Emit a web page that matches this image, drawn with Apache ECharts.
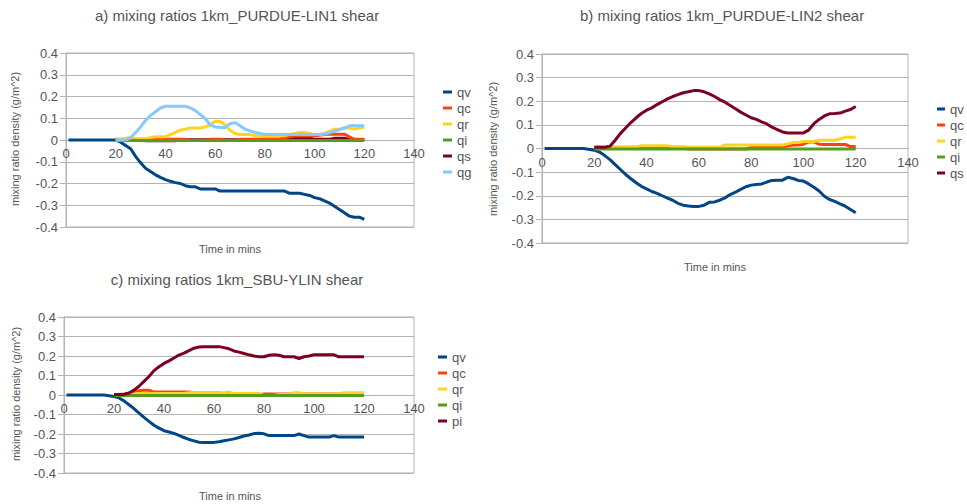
<!DOCTYPE html>
<html>
<head>
<meta charset="utf-8">
<script src="https://cdn.jsdelivr.net/npm/echarts@6/dist/echarts.min.js"></script>
<style>
html,body{margin:0;padding:0;background:#fff;}
#chart{width:967px;height:504px;}
</style>
</head>
<body>
<div id="chart"></div>
<script>
// ---- shared time axis (minutes) ----
const times = [1,4,8,12,16,20,22,24,26,28,30,32,34,36,38,40,42,44,46,48,50,52,54,56,58,60,62,64,66,68,70,72,74,76,78,80,82,84,86,88,90,92,94,96,98,100,102,104,106,108,110,112,114,116,118,120];
const xTicks = [0,20,40,60,80,100,120,140];
const yTicks = [-0.4,-0.3,-0.2,-0.1,0,0.1,0.2,0.3,0.4];

// ---- panel a: 1km_PURDUE-LIN1 ----
const qvA = [0,0,0,0,0,
 0,-0.01,-0.025,-0.04,-0.075,-0.105,-0.13,-0.145,-0.16,-0.172,
 -0.182,-0.19,-0.196,-0.2,-0.21,-0.215,-0.215,-0.225,-0.225,-0.225,
 -0.225,-0.235,-0.235,-0.235,-0.235,-0.235,-0.235,-0.235,-0.235,-0.235,
 -0.235,-0.235,-0.235,-0.235,-0.235,-0.245,-0.245,-0.245,-0.25,-0.255,
 -0.265,-0.27,-0.28,-0.29,-0.305,-0.32,-0.335,-0.35,-0.355,-0.355,
 -0.365];
const qcA = [null,null,null,null,null,
 0.003,0.003,0.003,0.003,0.003,0.003,0.003,0.003,0.003,0.003,
 0.003,0.003,0.003,0.003,0.003,-0.002,-0.002,-0.002,-0.002,0.003,
 0.003,0.003,-0.002,-0.002,-0.002,0.003,0.003,0.003,0.003,0.003,
 0.005,0.005,0.005,0.005,0.01,0.015,0.018,0.018,0.018,0.018,
 0.02,0.022,0.025,0.027,0.027,0.027,0.027,0.015,0.003,0.003,
 0.003];
const qrA = [null,null,null,null,null,
 0,0.003,0.008,0.012,0.005,0.005,0.005,0.012,0.015,0.015,
 0.015,0.025,0.035,0.045,0.05,0.055,0.055,0.055,0.06,0.07,
 0.085,0.085,0.07,0.045,0.03,0.025,0.025,0.025,0.02,0.02,
 0.02,0.02,0.02,0.02,0.02,0.025,0.03,0.035,0.035,0.03,
 0.025,0.025,0.03,0.04,0.05,0.05,0.055,0.055,0.05,0.055,
 0.06];
const qiA = [null,null,null,null,null,
 -0.002,-0.002,-0.002,-0.002,-0.002,-0.002,-0.002,-0.002,-0.002,-0.002,
 -0.002,-0.002,-0.002,-0.002,-0.002,-0.002,-0.002,-0.002,-0.002,-0.002,
 -0.002,-0.002,-0.002,-0.002,-0.002,-0.002,-0.002,-0.002,-0.002,-0.002,
 -0.002,-0.002,-0.002,-0.002,-0.002,-0.002,-0.002,-0.002,-0.002,-0.002,
 -0.002,-0.002,-0.002,-0.002,-0.002,-0.002,-0.002,-0.002,-0.002,-0.002,
 -0.002];
const qsA = [null,null,null,null,null,
 0,0,0,0,0,0,-0.004,-0.004,-0.004,-0.004,
 -0.004,-0.004,-0.004,0.001,0.001,0.001,0.001,0.001,0.001,0.001,
 0.001,0.001,0.001,0.001,0.001,0.001,0.001,0.001,0.001,0.001,
 0.001,0.001,0.001,0.001,0.01,0.012,0.012,0.012,0.012,0.01,
 0.003,0.003,0.003,0.003,0.008,0.008,0.008,0.001,0.001,0.001,
 0.001];
const qgA = [null,null,null,null,null,
 0,0,0,0.01,0.035,0.06,0.09,0.112,0.13,0.147,
 0.155,0.155,0.155,0.155,0.155,0.148,0.135,0.118,0.098,0.07,
 0.06,0.057,0.057,0.075,0.08,0.065,0.05,0.042,0.035,0.03,
 0.025,0.025,0.025,0.025,0.025,0.025,0.025,0.025,0.025,0.025,
 0.025,0.025,0.028,0.033,0.04,0.048,0.055,0.065,0.065,0.065,
 0.065];

// ---- panel b: 1km_PURDUE-LIN2 ----
const qvB = [0,0,0,0,0,
 -0.007,-0.015,-0.03,-0.047,-0.068,-0.089,-0.11,-0.128,-0.145,-0.16,
 -0.171,-0.182,-0.19,-0.2,-0.21,-0.219,-0.232,-0.24,-0.243,-0.245,
 -0.245,-0.24,-0.228,-0.226,-0.219,-0.209,-0.195,-0.185,-0.173,-0.162,
 -0.155,-0.152,-0.15,-0.142,-0.135,-0.134,-0.134,-0.122,-0.127,-0.135,
 -0.138,-0.15,-0.164,-0.18,-0.202,-0.216,-0.224,-0.234,-0.244,-0.258,
 -0.272];
const qcB = [null,null,null,null,null,
 0.005,0.005,0.005,0.005,0.005,0.005,0.005,0.005,0.005,0.005,
 0.005,0.005,0.005,0.005,0.005,0.005,0.005,0.005,-0.002,-0.002,
 -0.002,-0.002,-0.002,-0.002,-0.002,-0.002,-0.002,-0.002,-0.002,-0.002,
 0.005,0.005,0.005,0.005,0.005,0.005,0.005,0.012,0.015,0.015,
 0.018,0.028,0.028,0.018,0.017,0.017,0.017,0.017,0.017,0.008,
 0.008];
const qrB = [null,null,null,null,null,
 0.005,0.005,0.005,0.005,0.005,0.005,0.005,0.005,0.005,0.012,
 0.012,0.012,0.012,0.012,0.012,0.007,0.007,0.007,0.005,0.005,
 0.005,0.005,0.005,0.005,0.005,0.015,0.015,0.015,0.015,0.015,
 0.015,0.015,0.015,0.015,0.015,0.015,0.015,0.02,0.025,0.025,
 0.03,0.03,0.03,0.035,0.035,0.035,0.035,0.04,0.048,0.048,
 0.048];
const qiB = [null,null,null,null,null,
 -0.002,-0.002,-0.002,-0.002,-0.002,-0.002,-0.002,-0.002,-0.002,-0.002,
 -0.002,-0.002,-0.002,-0.002,-0.002,-0.002,-0.002,-0.002,-0.002,-0.002,
 -0.002,-0.002,-0.002,-0.002,-0.002,-0.002,-0.002,-0.002,-0.002,-0.002,
 -0.002,-0.002,-0.002,-0.002,-0.002,-0.002,-0.002,-0.002,-0.002,-0.002,
 -0.002,-0.002,-0.002,-0.002,-0.002,-0.002,-0.002,-0.002,-0.002,-0.002,
 -0.002];
const qsB = [null,null,null,null,null,
 0.005,0.005,0.005,0.01,0.035,0.064,0.087,0.11,0.13,0.148,
 0.162,0.172,0.186,0.198,0.21,0.22,0.228,0.236,0.24,0.245,
 0.245,0.24,0.231,0.22,0.207,0.196,0.182,0.168,0.154,0.142,
 0.13,0.123,0.113,0.104,0.09,0.08,0.07,0.066,0.066,0.066,
 0.066,0.078,0.105,0.123,0.138,0.147,0.148,0.15,0.158,0.165,
 0.178];

// ---- panel c: 1km_SBU-YLIN ----
const qvC = [0,0,0,0,0,
 -0.008,-0.015,-0.03,-0.05,-0.07,-0.093,-0.115,-0.135,-0.155,-0.17,
 -0.183,-0.19,-0.197,-0.207,-0.218,-0.228,-0.235,-0.242,-0.243,-0.243,
 -0.243,-0.24,-0.235,-0.23,-0.225,-0.218,-0.21,-0.205,-0.198,-0.196,
 -0.199,-0.208,-0.208,-0.208,-0.208,-0.208,-0.208,-0.2,-0.208,-0.216,
 -0.216,-0.216,-0.216,-0.216,-0.208,-0.216,-0.216,-0.216,-0.216,-0.216,
 -0.216];
const qcC = [null,null,null,null,null,
 0.003,0.003,0.005,0.008,0.017,0.022,0.025,0.025,0.015,0.015,
 0.015,0.015,0.015,0.015,0.015,0.015,0.01,0.01,0.01,0.01,
 0.01,0.01,0.005,0,0,0,0,0,0,0,
 0.005,0.005,0.005,0.005,0.005,0.005,0.005,0.005,0.005,0.005,
 0.005,0.005,0.005,0.005,0.005,0.005,0.005,0.005,0.005,0.005,
 0.01];
const qrC = [null,null,null,null,null,
 0.003,0.003,0.003,0.003,0.005,0.008,0.008,0.008,0.008,0.008,
 0.008,0.008,0.008,0.008,0.008,0.012,0.012,0.012,0.012,0.012,
 0.012,0.012,0.012,0.015,0.008,0.008,0.008,0.008,0.008,0.008,
 -0.003,-0.003,-0.003,0.003,0.003,0.003,0.012,0.012,0.005,0.005,
 0.005,0.005,0.005,0.005,0.005,0.005,0.012,0.012,0.012,0.012,
 0.012];
const qiC = [null,null,null,null,null,
 -0.002,-0.002,-0.002,-0.002,-0.002,-0.002,-0.002,-0.002,-0.002,-0.002,
 -0.002,-0.002,-0.002,-0.002,-0.002,-0.002,-0.002,-0.002,-0.002,-0.002,
 -0.002,-0.002,-0.002,-0.002,-0.002,-0.002,-0.002,-0.002,-0.002,-0.002,
 -0.002,-0.002,-0.002,-0.002,-0.002,-0.002,-0.002,-0.002,-0.002,-0.002,
 -0.002,-0.002,-0.002,-0.002,-0.002,-0.002,-0.002,-0.002,-0.002,-0.002,
 -0.002];
const piC = [null,null,null,null,null,
 0.003,0.003,0.003,0.01,0.025,0.045,0.07,0.095,0.125,0.145,
 0.162,0.175,0.19,0.205,0.215,0.228,0.24,0.246,0.248,0.248,
 0.248,0.248,0.243,0.237,0.226,0.22,0.213,0.206,0.2,0.196,
 0.196,0.204,0.206,0.204,0.196,0.196,0.196,0.187,0.196,0.2,
 0.206,0.206,0.206,0.206,0.206,0.196,0.196,0.196,0.196,0.196,
 0.196];

// ---- labels ----
const titles = ['a) mixing ratios 1km_PURDUE-LIN1 shear','b) mixing ratios 1km_PURDUE-LIN2 shear','c) mixing ratios 1km_SBU-YLIN shear'];
const xName = 'Time in mins';
const yName = 'mixing ratio density (g/m^2)';
const legendA = ['qv','qc','qr','qi','qs','qg'];
const legendB = ['qv','qc','qr','qi','qs'];
const legendC = ['qv','qc','qr','qi','pi'];

const colors = {qv:'#004586', qc:'#ff420e', qr:'#ffd320', qi:'#579d1c', qs:'#7e0021', qg:'#83caff', pi:'#7e0021'};
const FONT = 'Liberation Sans, Arial, sans-serif';
const TXT = '#555555';
const GRID = '#b3b3b3';

function pairs(arr){ return times.map((t,i)=> arr[i]===null ? null : [t, arr[i]]).filter(p=>p!==null); }
function line(name, arr, gi, key){
  return {name:name, type:'line', xAxisIndex:gi, yAxisIndex:gi, data:pairs(arr),
    showSymbol:false, symbol:'none', lineStyle:{width:3, color:colors[key||name]},
    itemStyle:{color:colors[key||name]}, animation:false, silent:true};
}

const grids = [
  {left:66, top:53, width:348, height:174},
  {left:542, top:54, width:366, height:189},
  {left:64, top:317, width:350, height:156}
];

// x axis is lifted to the zero line of its grid (y range is symmetric)
const xAxes = grids.map((g,i)=>({gridIndex:i, type:'value', min:xTicks[0], max:xTicks[xTicks.length-1], interval:xTicks[1]-xTicks[0],
  position:'bottom', offset:-g.height/2,
  axisLine:{show:true, onZero:false, lineStyle:{color:GRID}}, axisTick:{show:false},
  axisLabel:{color:TXT, fontSize:13, fontFamily:FONT, margin:7}, splitLine:{show:false}}));
const yAxes = grids.map((g,i)=>({gridIndex:i, type:'value', min:yTicks[0], max:yTicks[yTicks.length-1], interval:0.1,
  axisLine:{show:true, lineStyle:{color:GRID}}, axisTick:{show:true, length:6, lineStyle:{color:GRID}},
  axisLabel:{color:TXT, fontSize:13, fontFamily:FONT, margin:8}, splitLine:{show:true, lineStyle:{color:GRID}}}));

function txt(text, x, y, size, rot){
  return {type:'text', x:x, y:y, rotation:rot||0, silent:true,
    style:{text:text, fill:TXT, font:size+'px '+FONT, textAlign:'center', textVerticalAlign:'middle'}};
}

const legendBase = {orient:'vertical', icon:'rect', itemWidth:9, itemHeight:3, itemGap:0, padding:0,
  textStyle:{color:TXT, fontSize:13, fontFamily:FONT, lineHeight:16}, selectedMode:false};

const option = {
  animation:false,
  backgroundColor:'#ffffff',
  grid: grids.map(g=>Object.assign({show:true, borderColor:GRID, borderWidth:1, backgroundColor:'transparent'}, g)),
  xAxis: xAxes,
  yAxis: yAxes,
  legend: [
    Object.assign({}, legendBase, {left:443, top:84, data:legendA}),
    Object.assign({}, legendBase, {left:937, top:101, itemWidth:8, data:legendB}),
    Object.assign({}, legendBase, {left:438, top:349, data:legendC})
  ],
  graphic: [
    txt(titles[0], 237, 15, 15), txt(titles[1], 722, 15, 15), txt(titles[2], 237, 279, 15),
    txt(xName, 230, 249, 11), txt(xName, 715, 267, 11), txt(xName, 230, 496, 11),
    txt(yName, 15, 139, 11, Math.PI/2), txt(yName, 493, 149, 11, Math.PI/2), txt(yName, 16, 394, 11, Math.PI/2)
  ],
  series: [
    line('qv', qvA, 0), line('qs', qsA, 0), line('qc', qcA, 0), line('qr', qrA, 0), line('qi', qiA, 0), line('qg', qgA, 0),
    line('qv', qvB, 1), line('qc', qcB, 1), line('qr', qrB, 1), line('qi', qiB, 1), line('qs', qsB, 1),
    line('qv', qvC, 2), line('qc', qcC, 2), line('qr', qrC, 2), line('qi', qiC, 2), line('pi', piC, 2)
  ]
};

const chart = echarts.init(document.getElementById('chart'), null, {renderer:'svg'});
chart.setOption(option);
</script>
</body>
</html>
